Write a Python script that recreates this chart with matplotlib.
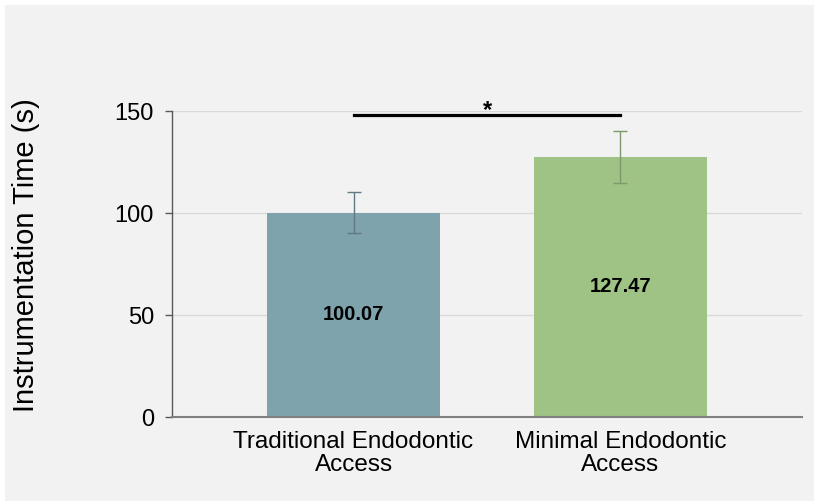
import matplotlib.pyplot as plt
from matplotlib.patches import Rectangle

plt.rcParams['font.family'] = ['Liberation Sans', 'DejaVu Sans']

# data
categories = ["Traditional Endodontic\nAccess", "Minimal Endodontic\nAccess"]
means = [100.07, 127.47]
errors = [10.0, 12.6]
bar_colors = ["#7FA3AD", "#9EC385"]
err_colors = ["#5F7A84", "#7E9A6C"]
yticks = [0, 50, 100, 150]

fig = plt.figure(figsize=(8.14, 5.01), dpi=100)
fig.patch.set_facecolor("white")
# gray chart area with a thin white margin on top/left
fig.patches.append(Rectangle((5 / 814, 0), 1, 1 - 5 / 501, transform=fig.transFigure,
                             facecolor="#F2F2F2", edgecolor="none", zorder=-10))

ax = fig.add_axes([172 / 814, 1 - 417 / 501, 630 / 814, 306 / 501])
ax.set_facecolor("none")

x = list(range(len(categories)))
bars = ax.bar(x, means, width=0.648, color=bar_colors, zorder=2)
for i in x:
    ax.errorbar(x[i], means[i], yerr=errors[i], fmt="none", ecolor=err_colors[i],
                elinewidth=1, capsize=5, capthick=1, zorder=3)
    ax.text(x[i], means[i] / 2, f"{means[i]:.2f}", ha="center", va="center",
            fontsize=14.5, fontweight="bold", color="black", zorder=4)

ax.set_xlim(-0.68, 1.68)
ax.set_ylim(0, 150)
ax.set_yticks(yticks)
ax.set_xticks(x)
ax.set_xticklabels(categories, fontsize=17.5, linespacing=1.05)
ax.tick_params(axis="y", labelsize=17, length=5, width=1, color="#595959", pad=8)
ax.tick_params(axis="x", length=0, pad=10)
ax.grid(axis="y", color="#D9D9D9", linewidth=1, zorder=0)

for s in ["top", "right"]:
    ax.spines[s].set_visible(False)
ax.spines["left"].set_color("#595959")
ax.spines["left"].set_linewidth(1)
ax.spines["bottom"].set_color("#808080")
ax.spines["bottom"].set_linewidth(1.5)

ax.set_ylabel("Instrumentation Time (s)", fontsize=21)
ax.yaxis.set_label_coords(-132 / 630, 0.53)

# significance bar
ax.plot([x[0], x[1]], [148.2, 148.2], color="black", linewidth=2.3, clip_on=False, zorder=5)
ax.text((x[0] + x[1]) / 2, 150, "*", ha="center", va="center", fontsize=17,
        fontweight="bold", color="black")

fig.savefig("out.png", dpi=100, facecolor=fig.get_facecolor())
